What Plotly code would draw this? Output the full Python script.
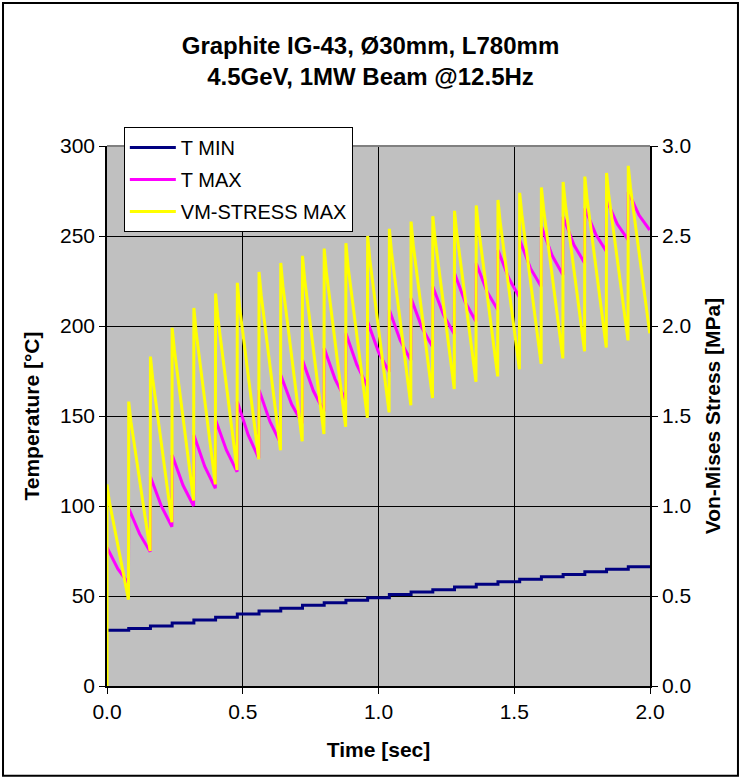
import plotly.graph_objects as go

# ---------------- data ----------------
pulse_t = [0.00, 0.08, 0.16, 0.24, 0.32, 0.40, 0.48, 0.56, 0.64, 0.72,
           0.80, 0.88, 0.96, 1.04, 1.12, 1.20, 1.28, 1.36, 1.44, 1.52,
           1.60, 1.68, 1.76, 1.84, 1.92]
t_end = 2.0

# T MIN [°C]: level after each pulse, and final value
tmin_levels = [31.0, 32.0, 33.3, 35.0, 36.7, 38.2, 40.0, 41.6, 43.2, 44.8,
               46.2, 47.6, 49.0, 50.8, 52.2, 53.5, 55.0, 56.5, 57.9, 59.3,
               60.7, 61.9, 63.5, 64.8, 66.3]
tmin_end = 66.7

# T MAX [°C]: value right after each pulse, half-way, and at end of period
tmax_peak = [77.0, 98.7, 116.3, 128.3, 139.4, 147.8, 158.0, 164.4, 172.8, 181.1,
             187.6, 196.0, 202.4, 208.9, 215.4, 221.9, 229.3, 234.8, 242.2, 247.8,
             255.2, 260.7, 265.4, 270.0, 274.5]
tmax_mid = [65.0, 84.5, 100.0, 111.5, 122.0, 131.0, 139.5, 147.0, 156.5, 164.0,
            170.5, 178.5, 185.5, 192.0, 199.0, 206.0, 213.0, 219.0, 226.5, 232.0,
            239.0, 245.0, 251.0, 256.5, 261.5]
tmax_low = [57.0, 74.6, 88.5, 100.0, 109.8, 119.0, 126.5, 135.0, 146.0, 152.5,
            159.0, 166.5, 174.5, 181.0, 188.5, 195.5, 202.5, 209.0, 216.0, 222.0,
            228.5, 235.0, 241.5, 248.0, 253.3]
tmax_offsets = [0.0, 0.04, 0.079]

# VM-STRESS MAX [MPa]: initial value, peak, knee and minimum of each period
vm_start = 0.0
vm_peak = [1.12, 1.58, 1.83, 1.99, 2.10, 2.18, 2.24, 2.30, 2.35, 2.39,
           2.43, 2.46, 2.50, 2.54, 2.58, 2.61, 2.64, 2.67, 2.70, 2.74,
           2.77, 2.80, 2.83, 2.85, 2.89]
vm_knee = [1.03, 1.47, 1.71, 1.87, 1.97, 2.05, 2.11, 2.17, 2.22, 2.26,
           2.30, 2.33, 2.37, 2.41, 2.45, 2.49, 2.52, 2.55, 2.58, 2.62,
           2.65, 2.68, 2.71, 2.73, 2.77]
vm_low = [0.48, 0.75, 0.91, 1.03, 1.12, 1.20, 1.26, 1.31, 1.36, 1.40,
          1.44, 1.49, 1.52, 1.56, 1.60, 1.65, 1.69, 1.72, 1.76, 1.79,
          1.82, 1.86, 1.88, 1.92, 1.96]
vm_offsets = [0.0, 0.008, 0.079]

x_ticks = [0.0, 0.5, 1.0, 1.5, 2.0]
y_ticks = [0, 50, 100, 150, 200, 250, 300]
y2_ticks = [0.0, 0.5, 1.0, 1.5, 2.0, 2.5, 3.0]

# ---------------- build series ----------------
tmin_x = pulse_t + [t_end]
tmin_y = tmin_levels + [tmin_end]

tmax_x, tmax_y = [], []
for k, t in enumerate(pulse_t):
    for off, v in zip(tmax_offsets, (tmax_peak[k], tmax_mid[k], tmax_low[k])):
        tmax_x.append(t + off)
        tmax_y.append(v)

vm_x, vm_y = [pulse_t[0]], [vm_start]
for k, t in enumerate(pulse_t):
    for off, v in zip(vm_offsets, (vm_peak[k], vm_knee[k], vm_low[k])):
        vm_x.append(t + off)
        vm_y.append(v)

FONT = "Liberation Sans, Arial, sans-serif"

fig = go.Figure()
fig.add_trace(go.Scatter(x=tmin_x, y=tmin_y, name="T MIN", mode="lines",
                         line=dict(color="#000080", width=3, shape="hv"),
                         legendgroup="a"))
fig.add_trace(go.Scatter(x=tmax_x, y=tmax_y, name="T MAX", mode="lines",
                         line=dict(color="#FF00FF", width=3),
                         legendgroup="b"))
fig.add_trace(go.Scatter(x=vm_x, y=vm_y, name="VM-STRESS MAX", mode="lines",
                         line=dict(color="#FFFF00", width=3),
                         legendgroup="c", yaxis="y2"))

fig.update_layout(
    width=741, height=779,
    margin=dict(l=107, r=91, t=146, b=93, autoexpand=False),
    paper_bgcolor="white",
    plot_bgcolor="#C0C0C0",
    font=dict(family=FONT, color="black", size=21),
    title=dict(text="<b>Graphite IG-43, Ø30mm, L780mm<br>4.5GeV, 1MW Beam @12.5Hz</b>",
               x=0.5, xanchor="center", y=1 - 54 / 779, yanchor="top",
               font=dict(family=FONT, size=24, color="black")),
    xaxis=dict(range=[0, 2], tickvals=x_ticks, tickformat=".1f",
               showgrid=True, gridcolor="black", gridwidth=1,
               showline=True, linecolor="black", linewidth=1.5,
               ticks="outside", ticklen=6, tickcolor="black",
               zeroline=False, automargin=False,
               tickfont=dict(size=21),
               title=dict(text="<b>Time [sec]</b>", font=dict(size=21), standoff=20)),
    yaxis=dict(range=[0, 300], tickvals=y_ticks,
               showgrid=True, gridcolor="black", gridwidth=1,
               showline=True, linecolor="black", linewidth=1.5,
               ticks="outside", ticklen=6, tickcolor="black",
               zeroline=False, automargin=False,
               tickfont=dict(size=21),
               title=dict(text="<b>Temperature [°C]</b>", font=dict(size=21), standoff=15)),
    yaxis2=dict(range=[0, 3], tickvals=y2_ticks, tickformat=".1f",
                overlaying="y", side="right", showgrid=False,
                showline=True, linecolor="black", linewidth=1.5,
                ticks="outside", ticklen=6, tickcolor="black",
                zeroline=False, automargin=False,
                tickfont=dict(size=21),
                title=dict(text="<b>Von-Mises Stress [MPa]</b>", font=dict(size=21), standoff=15)),
    legend=dict(x=0.031, y=1.035, xanchor="left", yanchor="top",
                bgcolor="white", bordercolor="black", borderwidth=1,
                font=dict(family=FONT, size=20, color="black"),
                tracegroupgap=3, itemwidth=46),
    showlegend=True,
)

# plot-area top edge and outer chart border
fig.add_shape(type="line", xref="paper", yref="paper", x0=0, x1=1, y0=1, y1=1,
              line=dict(color="#808080", width=2))
fig.add_shape(type="rect", xref="paper", yref="paper",
              x0=-0.1915, x1=1.162, y0=-0.166, y1=1.265,
              line=dict(color="black", width=2))

fig.write_html("out.html",
               config={"displayModeBar": False},
               post_script="document.body.style.margin='0';document.body.style.overflow='hidden';")
